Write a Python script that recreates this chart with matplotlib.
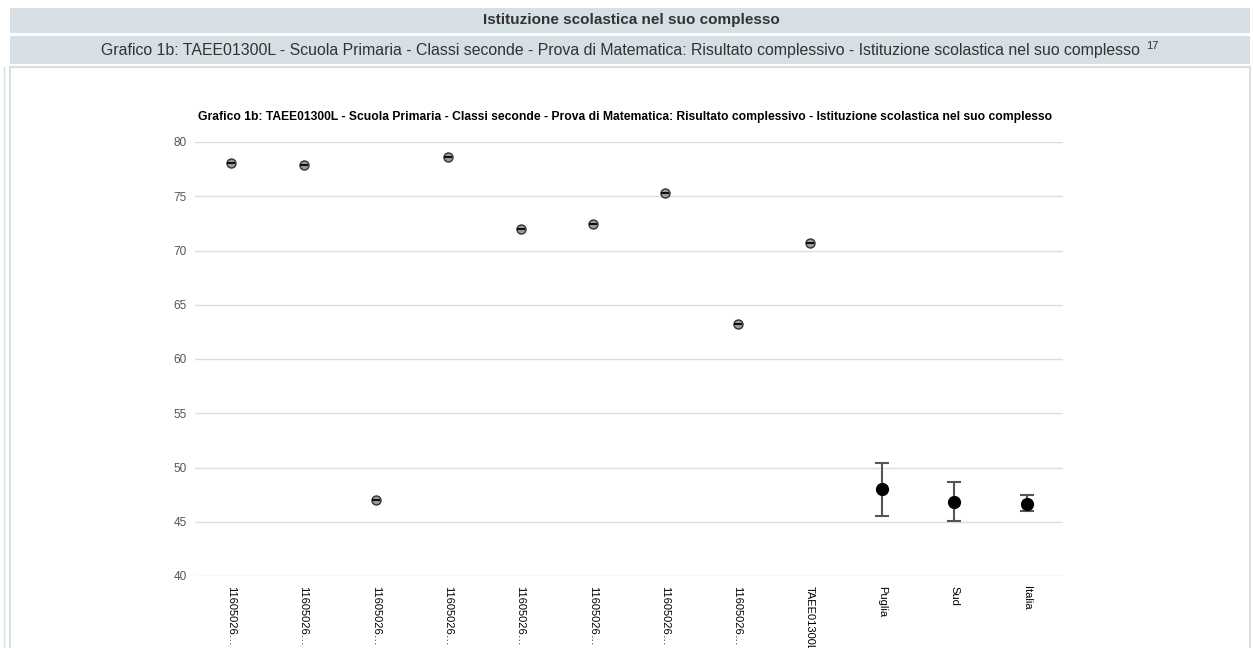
import matplotlib
matplotlib.use("Agg")
import matplotlib.pyplot as plt
from matplotlib.patches import Rectangle

plt.rcParams['font.family'] = ['Liberation Sans', 'DejaVu Sans']

# dati
categorie = ['11605026…', '11605026…', '11605026…', '11605026…', '11605026…',
             '11605026…', '11605026…', '11605026…', 'TAEE01300L',
             'Puglia', 'Sud', 'Italia']
valori_classi = [78.1, 77.9, 47.0, 78.6, 72.0, 72.4, 75.3, 63.2, 70.7]
valori_rif = [48.0, 46.8, 46.6]
err_basso = [45.5, 45.1, 46.0]
err_alto = [50.4, 48.7, 47.5]

titolo = ('Grafico 1b: TAEE01300L - Scuola Primaria - Classi seconde - Prova di Matematica: '
          'Risultato complessivo - Istituzione scolastica nel suo complesso')

W, H = 1253, 648
fig = plt.figure(figsize=(W / 100, H / 100), dpi=100)

# sfondo pagina (coordinate in pixel)
bg = fig.add_axes([0, 0, 1, 1])
bg.set_xlim(0, W)
bg.set_ylim(H, 0)
bg.axis('off')
bg.add_patch(Rectangle((10, 8), 1240, 25, facecolor='#d5dfe4', edgecolor='none'))
bg.add_patch(Rectangle((10, 36), 1240, 28, facecolor='#d5dfe4', edgecolor='none'))
bg.add_patch(Rectangle((10, 67), 1240, 590, facecolor='white', edgecolor='#d5dfe4', lw=1.5))
bg.plot([4, 4], [67, H], color='#d5dfe4', lw=1)
bg.text(631, 20, 'Istituzione scolastica nel suo complesso', ha='center', va='center',
        fontsize=11, fontweight='bold', color='#333333')
bg.text(620, 51, titolo, ha='center', va='center', fontsize=11.4, color='#333333')
bg.text(1146, 46, '17', ha='left', va='center', fontsize=8, color='#333333')

# grafico
ax = fig.add_axes([195 / W, (H - 576) / H, 868 / W, 434 / H])
ax.patch.set_alpha(0)
x = list(range(len(categorie)))
xc = x[:len(valori_classi)]
xr = x[len(valori_classi):]

ax.errorbar(xr, valori_rif,
            yerr=[[v - b for v, b in zip(valori_rif, err_basso)],
                  [a - v for v, a in zip(valori_rif, err_alto)]],
            fmt='o', color='black', markersize=8.5, ecolor='#555555',
            elinewidth=1.5, capsize=5, capthick=1.5, zorder=3)
ax.plot(xc, valori_classi, 'o', markersize=6.5, markerfacecolor='#9a9a9a',
        markeredgecolor='#333333', markeredgewidth=1, linestyle='none', zorder=3)
ax.plot(xc, valori_classi, '_', markersize=6, color='black', markeredgewidth=1.3,
        linestyle='none', zorder=4)

ax.set_xlim(-0.5, len(categorie) - 0.5)
ax.set_ylim(40, 80)
ax.set_yticks(range(40, 81, 5))
ax.grid(axis='y', color='#dddddd', lw=1)
ax.set_axisbelow(True)
for s in ax.spines.values():
    s.set_visible(False)
ax.tick_params(axis='y', length=0, pad=6, labelsize=8.5, labelcolor='#555555')
ax.set_xticks(x)
ax.set_xticklabels(categorie, rotation=-90, fontsize=8, color='black', va='top')
ax.tick_params(axis='x', length=0, pad=7)
ax.set_title(titolo, fontsize=8.7, fontweight='bold', pad=16, x=0.495)

fig.savefig('out.png', dpi=100)
